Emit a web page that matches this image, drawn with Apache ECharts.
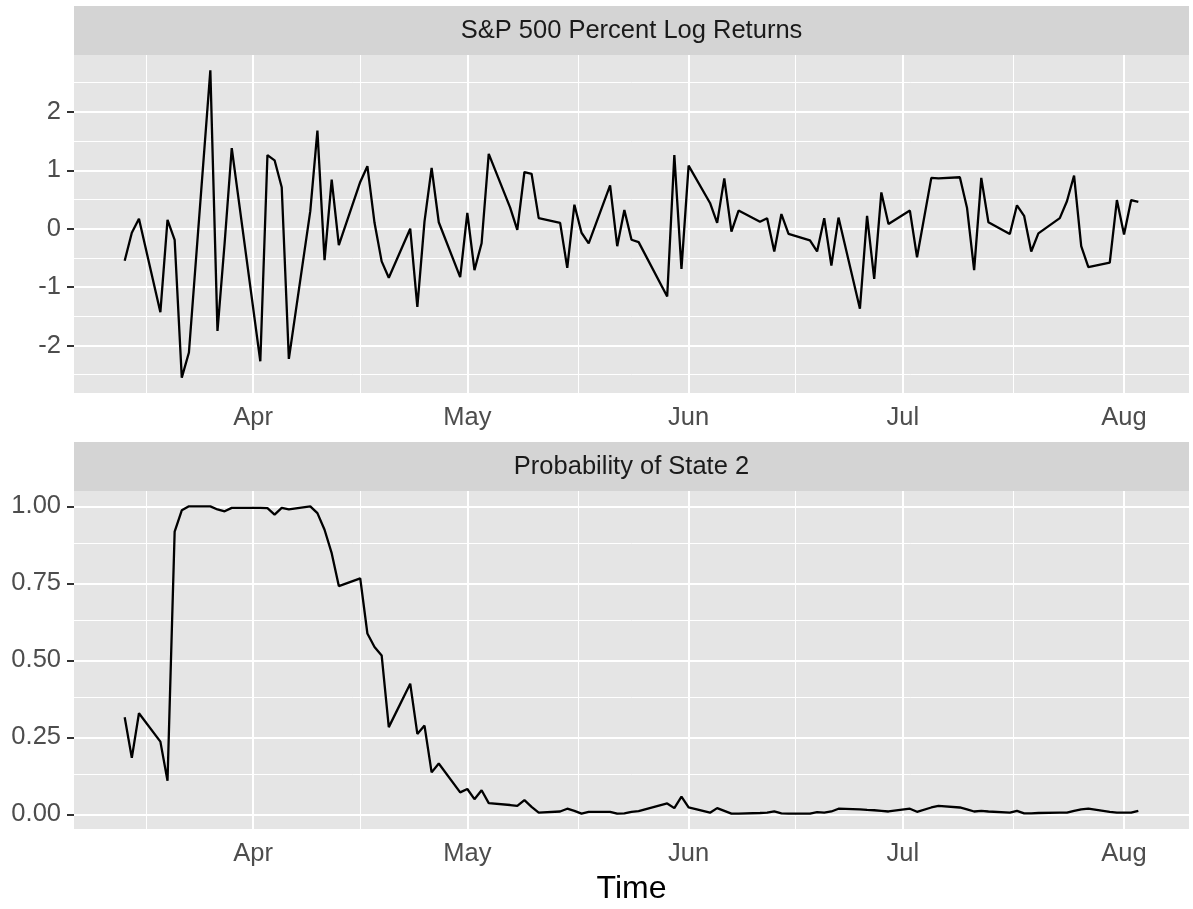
<!DOCTYPE html>
<html><head><meta charset="utf-8">
<script src="https://cdn.jsdelivr.net/npm/echarts@6/dist/echarts.min.js"></script>
<style>html,body{margin:0;padding:0;background:#fff}#c{width:1193px;height:909px}</style>
</head><body><div id="c"></div>
<script>
// ---- data ----
const dates = [
 '2018-03-14','2018-03-15','2018-03-16','2018-03-19','2018-03-20','2018-03-21','2018-03-22','2018-03-23','2018-03-26','2018-03-27','2018-03-28','2018-03-29',
 '2018-04-02','2018-04-03','2018-04-04','2018-04-05','2018-04-06','2018-04-09','2018-04-10','2018-04-11','2018-04-12','2018-04-13','2018-04-16','2018-04-17','2018-04-18','2018-04-19','2018-04-20','2018-04-23','2018-04-24','2018-04-25','2018-04-26','2018-04-27','2018-04-30',
 '2018-05-01','2018-05-02','2018-05-03','2018-05-04','2018-05-07','2018-05-08','2018-05-09','2018-05-10','2018-05-11','2018-05-14','2018-05-15','2018-05-16','2018-05-17','2018-05-18','2018-05-21','2018-05-22','2018-05-23','2018-05-24','2018-05-25','2018-05-29','2018-05-30','2018-05-31',
 '2018-06-01','2018-06-04','2018-06-05','2018-06-06','2018-06-07','2018-06-08','2018-06-11','2018-06-12','2018-06-13','2018-06-14','2018-06-15','2018-06-18','2018-06-19','2018-06-20','2018-06-21','2018-06-22','2018-06-25','2018-06-26','2018-06-27','2018-06-28','2018-06-29',
 '2018-07-02','2018-07-03','2018-07-05','2018-07-06','2018-07-09','2018-07-10','2018-07-11','2018-07-12','2018-07-13','2018-07-16','2018-07-17','2018-07-18','2018-07-19','2018-07-20','2018-07-23','2018-07-24','2018-07-25','2018-07-26','2018-07-27','2018-07-30','2018-07-31',
 '2018-08-01','2018-08-02','2018-08-03'
];
const logReturns = [
 -0.55,-0.07,0.17,-1.43,0.15,-0.19,-2.55,-2.12,2.71,-1.75,-0.25,1.38,
 -2.27,1.26,1.17,0.71,-2.23,0.30,1.68,-0.54,0.84,-0.28,0.80,1.07,0.10,-0.56,-0.84,0.00,-1.34,0.12,1.04,0.11,-0.83,
 0.27,-0.71,-0.25,1.28,0.36,-0.02,0.97,0.94,0.18,0.10,-0.67,0.41,-0.07,-0.25,0.74,-0.30,0.32,-0.19,-0.23,-1.16,1.26,-0.69,
 1.08,0.44,0.10,0.86,-0.05,0.31,0.12,0.18,-0.39,0.25,-0.09,-0.20,-0.39,0.18,-0.63,0.19,-1.37,0.22,-0.86,0.62,0.08,
 0.31,-0.49,0.87,0.86,0.88,0.36,-0.71,0.87,0.11,-0.09,0.40,0.22,-0.39,-0.08,0.18,0.47,0.91,-0.30,-0.66,-0.58,0.49,
 -0.10,0.49,0.46
];
const probState2 = [
 0.315,0.183,0.328,0.236,0.109,0.918,0.987,1.000,1.000,0.990,0.984,0.995,
 0.995,0.994,0.973,0.995,0.990,1.000,0.978,0.924,0.848,0.741,0.766,0.587,0.543,0.516,0.283,0.424,0.261,0.288,0.136,0.165,0.071,
 0.082,0.049,0.078,0.036,0.030,0.027,0.046,0.024,0.005,0.009,0.018,0.011,0.002,0.008,0.008,0.002,0.003,0.008,0.010,0.035,0.020,0.057,
 0.022,0.005,0.020,0.011,0.002,0.002,0.004,0.005,0.009,0.003,0.002,0.002,0.007,0.005,0.009,0.018,0.016,0.014,0.013,0.011,0.009,
 0.018,0.008,0.022,0.027,0.022,0.016,0.009,0.011,0.009,0.005,0.011,0.003,0.003,0.004,0.005,0.005,0.011,0.016,0.018,0.008,0.005,
 0.005,0.005,0.011
];
const monthTicks = ['2018-04-01','2018-05-01','2018-06-01','2018-07-01','2018-08-01'];
const monthNames = ['Jan','Feb','Mar','Apr','May','Jun','Jul','Aug','Sep','Oct','Nov','Dec'];
const returnTicks = [-2,-1,0,1,2];
const probTicks = [0,0.25,0.5,0.75,1];
const stripTitles = ['S&P 500 Percent Log Returns','Probability of State 2'];
const xTitle = 'Time';

// ---- helpers ----
function ts(s){const p=s.split('-').map(Number);return Date.UTC(p[0],p[1]-1,p[2]);}
function expand(arr){const mn=Math.min(...arr),mx=Math.max(...arr),r=mx-mn;return [mn-0.05*r,mx+0.05*r];}
function minors(ticks){ // ggplot-style minor breaks (midpoints, extended one step each side)
  const n=ticks.length;
  const ext=[ticks[0]-(ticks[1]-ticks[0])].concat(ticks,[ticks[n-1]+(ticks[n-1]-ticks[n-2])]);
  const out=[];
  for(let i=1;i<ext.length;i++) out.push((ext[i-1]+ext[i])/2);
  return out;
}

const xs = dates.map(ts);
const xMajor = monthTicks.map(ts);
const xMinor = minors(xMajor);
const xExt = expand(xs);
const y1Ext = expand(logReturns);
const y2Ext = expand(probState2);

// ---- layout ----
const L=74, R=1189;
const strips=[{top:6,h:49},{top:442,h:49}];
const panels=[{top:55,h:338},{top:491,h:338}];
const bg='#E5E5E5', stripBg='#D4D4D4';
const FONT='"Liberation Sans", Arial, Helvetica, sans-serif';
const tickFs=25.5;

function gridData(yMaj,yMin,yLo,yHi){
  const d=[];
  xMinor.filter(v=>v>xExt[0]&&v<xExt[1]).forEach(v=>d.push({xAxis:v,lineStyle:{width:1}}));
  yMin.filter(v=>v>yLo&&v<yHi).forEach(v=>d.push({yAxis:v,lineStyle:{width:1}}));
  xMajor.forEach(v=>d.push({xAxis:v,lineStyle:{width:2}}));
  yMaj.forEach(v=>d.push({yAxis:v,lineStyle:{width:2}}));
  return d;
}

const chart = echarts.init(document.getElementById('c'), null, {renderer:'canvas'});
const xAxisBase = i => ({
  type:'value', gridIndex:i, min:xExt[0], max:xExt[1], scale:true,
  axisLine:{show:false}, splitLine:{show:false}, minorSplitLine:{show:false},
  axisTick:{show:true, customValues:xMajor, length:7, lineStyle:{color:'#333333', width:2}},
  axisLabel:{show:true, customValues:xMajor, margin:12, color:'#4D4D4D', fontSize:tickFs, fontFamily:FONT,
     formatter:v=>monthNames[new Date(v).getUTCMonth()], hideOverlap:false}
});
const yAxisBase = (i,ext,ticks,fmt) => ({
  type:'value', gridIndex:i, min:ext[0], max:ext[1],
  axisLine:{show:false}, splitLine:{show:false},
  axisTick:{show:true, customValues:ticks, length:7, lineStyle:{color:'#333333', width:2}},
  axisLabel:{show:true, customValues:ticks, margin:13, color:'#4D4D4D', fontSize:tickFs, fontFamily:FONT, formatter:fmt}
});
const mk = (yMaj,yMin,ext) => ({silent:true, z:1, symbol:['none','none'], label:{show:false}, animation:false,
   lineStyle:{color:'#ffffff', type:'solid'}, emphasis:{disabled:true},
   data:gridData(yMaj,yMin,ext[0],ext[1])});

const option = {
  animation:false,
  backgroundColor:'#ffffff',
  grid: panels.map(p=>({left:L, width:R-L, top:p.top, height:p.h, show:true, backgroundColor:bg, borderWidth:0})),
  xAxis:[xAxisBase(0), xAxisBase(1)],
  yAxis:[
    yAxisBase(0,y1Ext,returnTicks,v=>String(v)),
    yAxisBase(1,y2Ext,probTicks,v=>v.toFixed(2))
  ],
  series:[
    {type:'line', xAxisIndex:0, yAxisIndex:0, data:xs.map((x,i)=>[x,logReturns[i]]),
     showSymbol:false, symbol:'none', z:3, lineStyle:{color:'#000', width:2.3}, silent:true,
     markLine:mk(returnTicks,minors(returnTicks),y1Ext)},
    {type:'line', xAxisIndex:1, yAxisIndex:1, data:xs.map((x,i)=>[x,probState2[i]]),
     showSymbol:false, symbol:'none', z:3, lineStyle:{color:'#000', width:2.3}, silent:true,
     markLine:mk(probTicks,minors(probTicks),y2Ext)}
  ],
  graphic:[
    ...strips.map(s=>({type:'rect', shape:{x:L, y:s.top, width:R-L, height:s.h}, style:{fill:stripBg}, silent:true})),
    ...strips.map((s,i)=>({type:'text', x:(L+R)/2, y:s.top+s.h/2, style:{text:stripTitles[i], fill:'#1A1A1A', font:'25.5px '+FONT, align:'center', verticalAlign:'middle'}, silent:true})),
    {type:'text', x:(L+R)/2, y:889, style:{text:xTitle, fill:'#000000', font:'32px '+FONT, align:'center', verticalAlign:'middle'}, silent:true}
  ]
};
chart.setOption(option);
</script>
</body></html>
